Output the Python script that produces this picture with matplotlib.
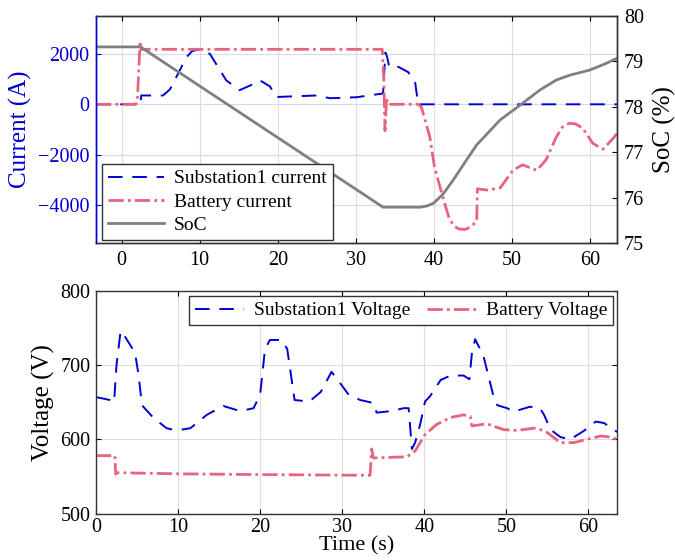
import matplotlib
matplotlib.use('Agg')
import matplotlib.pyplot as plt

plt.rcParams['font.family'] = ['Liberation Serif', 'DejaVu Serif']

# Strom Substation1 (A)
t_sub_i = [-3.3, 2.4, 2.5, 5.3, 6.2, 7.0, 8.3, 9.0, 9.6, 10.4, 11.3, 13.4, 15.1, 16.5, 17.7, 19.0, 19.8,
           21.5, 25.0, 26.7, 30.1, 33.5, 33.8, 34.0, 34.3, 35.5, 36.7, 37.6, 38.0, 63.5]
sub_i = [0, 0, 350, 350, 600, 1080, 1870, 2100, 2160, 2130, 2000, 950, 560, 750, 950, 710, 290,
         310, 350, 240, 280, 430, 2050, 1900, 1480, 1480, 1280, 900, 0, 0]

# Batteriestrom (A)
t_bat_i = [-3.3, 1.8, 2.0, 2.35, 2.5, 33.4, 33.6, 33.75, 33.95, 34.1, 38.0, 38.4, 39.5,
           40.1, 41.0, 42.0, 42.7, 43.3, 44.0, 44.6, 45.5, 45.6, 46.8, 48.5, 50.2, 51.4, 53.2, 54.4,
           55.7, 56.5, 57.4, 58.2, 59.1, 60.4, 61.7, 63.0, 63.5]
bat_i = [0, 0, 100, 2500, 2180, 2180, 1000, -1050, 250, 0, 0, -100, -1300,
         -2500, -3500, -4550, -4850, -4950, -4960, -4880, -4650, -3350, -3400, -3320, -2600, -2400, -2620, -2200,
         -1300, -900, -750, -780, -950, -1550, -1780, -1350, -1150]

# Ladezustand (%)
t_soc = [-3.3, 2.4, 33.5, 38.3, 39.2, 40.0, 41.2, 42.5, 44.2, 45.5, 48.5, 51.4, 53.6,
         55.7, 57.5, 60.0, 62.0, 63.5]
soc = [79.32, 79.32, 75.79, 75.79, 75.82, 75.88, 76.08, 76.39, 76.83, 77.16, 77.71, 78.08, 78.37,
       78.59, 78.70, 78.81, 78.95, 79.07]

# Spannung Substation1 (V)
t_sub_v = [0, 1.7, 2.2, 2.5, 3.0, 3.5, 4.75, 5.2, 5.6, 7.0, 8.6, 9.8, 11.5, 13.5, 15.5,
           17.6, 19.2, 20.0, 20.6, 21.2, 22.6, 23.3, 24.2, 26.0, 27.4, 28.7, 29.8, 30.8,
           32.2, 33.8, 34.2, 35.9, 37.5, 38.1, 38.5, 38.9, 39.5, 40.1, 40.7, 42.0, 43.2,
           44.8, 45.5, 45.8, 46.2, 47.2, 48.4, 48.9, 50.1, 50.9, 51.7, 52.9, 54.1, 54.6,
           55.4, 56.6, 57.8, 59.4, 60.9, 61.9, 63.5]
sub_v = [657, 653, 650, 700, 746, 739, 717, 686, 646, 629, 615, 612, 615, 633, 645,
         638, 642, 660, 722, 734, 734, 722, 653, 651, 664, 691, 675, 660,
         653, 649, 636, 638, 642, 642, 587, 596, 620, 651, 658, 680, 686,
         686, 681, 715, 735, 713, 660, 646, 642, 637, 640, 644, 642, 633,
         613, 603, 600, 611, 624, 622, 610]

# Batteriespannung (V)
t_bat_v = [0, 2.3, 2.4, 2.6, 10, 20, 33.4, 33.6, 33.8, 34.2, 37.9, 38.9, 40.1, 41.5,
           43.2, 44.8, 45.6, 45.8, 47.6, 49.7, 51.3, 53.7, 55.0, 56.6, 58.2, 59.8, 61.5,
           62.7, 63.5]
bat_v = [578, 578, 553, 555, 553.5, 552.5, 551.5, 587, 575, 575, 576.5, 584.5, 606.5, 620,
         629.5, 633, 631, 618, 621, 613, 612, 615.5, 609, 595.5, 595.5, 600, 604.5,
         603, 600]

blue = '#0000d0'
pink = '#e8647c'
grey = '#808080'
dash_blue = (7.5, 5)
dash_pink = (5.5, 1.5, 1, 1.5)

fig = plt.figure(figsize=(6.75, 5.6), dpi=100)
ax1 = fig.add_axes([0.1422, 0.566, 0.772, 0.4054])
ax2 = ax1.twinx()
ax3 = fig.add_axes([0.1422, 0.083, 0.772, 0.3974])

# oberes Diagramm: Ströme und SoC
l1, = ax1.plot(t_sub_i, sub_i, color=blue, lw=1.4, dashes=dash_blue, label='Substation1 current')
l2, = ax1.plot(t_bat_i, bat_i, color=pink, lw=2, dashes=dash_pink, label='Battery current')
l3, = ax2.plot(t_soc, soc, color=grey, lw=2, label='SoC')

ax1.set_xlim(-3.3, 63.5)
ax1.set_ylim(-5500, 3500)
ax1.set_yticks([-4000, -2000, 0, 2000])
ax1.set_xticks(range(0, 61, 10))
ax2.set_ylim(75, 80)
ax2.set_yticks(range(75, 81))

ax1.grid(axis='x', color='#dddddd', lw=0.8)
ax1.grid(axis='y', color='#d8d8f5', lw=0.8)
ax1.set_axisbelow(True)

ax1.tick_params(axis='both', direction='in', labelsize=14.5, top=True)
ax1.tick_params(axis='x', pad=6)
ax1.tick_params(axis='y', colors=blue, pad=5)
ax2.tick_params(axis='y', direction='in', labelsize=14.5, pad=5)
ax1.set_ylabel('Current (A)', color=blue, fontsize=18)
ax2.set_ylabel('SoC (%)', fontsize=18, labelpad=6)

for ax in (ax1, ax2):
    for s in ax.spines.values():
        s.set_color('#333333')
        s.set_linewidth(1)
    ax.spines['left'].set_color(blue)

ax2.legend([l1, l2, l3], [l1.get_label(), l2.get_label(), l3.get_label()],
           loc='lower left', bbox_to_anchor=(0.012, 0.013), borderaxespad=0,
           fontsize=14, fancybox=False, framealpha=1, edgecolor='#333333',
           handlelength=2.9, labelspacing=0.3, borderpad=0.3, handletextpad=0.5)
ax2.get_legend().get_frame().set_linewidth(1)

# unteres Diagramm: Spannungen
ax3.plot(t_sub_v, sub_v, color=blue, lw=1.4, dashes=dash_blue, label='Substation1 Voltage')
ax3.plot(t_bat_v, bat_v, color=pink, lw=2, dashes=dash_pink, label='Battery Voltage')
ax3.set_xlim(0, 63.5)
ax3.set_ylim(500, 800)
ax3.set_yticks([500, 600, 700, 800])
ax3.set_xticks(range(0, 61, 10))
ax3.grid(color='#dddddd', lw=0.8)
ax3.set_axisbelow(True)
ax3.tick_params(direction='in', labelsize=14.5, top=True, right=True, pad=4)
ax3.tick_params(axis='x', pad=3)
ax3.set_ylabel('Voltage (V)', fontsize=18)
ax3.set_xlabel('Time (s)', fontsize=16, labelpad=0)
for s in ax3.spines.values():
    s.set_color('#333333')
    s.set_linewidth(1)

leg = ax3.legend(loc='upper right', bbox_to_anchor=(0.992, 0.978), borderaxespad=0, ncol=2,
                 fontsize=14, fancybox=False, framealpha=1, edgecolor='#333333',
                 handlelength=2.5, borderpad=0.3, handletextpad=0.5, columnspacing=0.9)
leg.get_frame().set_linewidth(1)

plt.savefig('out.png', dpi=100)
